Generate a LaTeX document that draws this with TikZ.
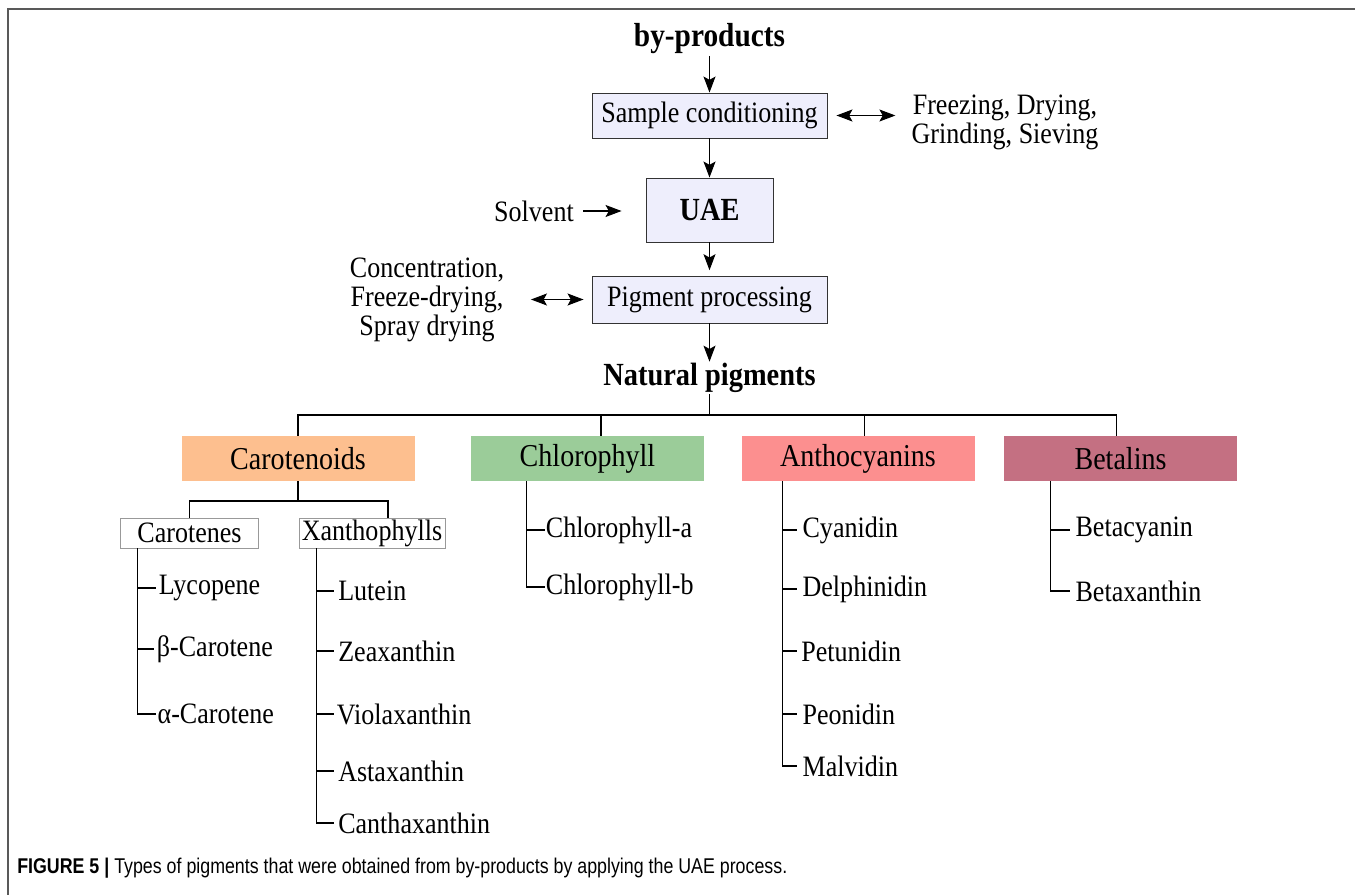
\documentclass[tikz,border=0pt]{standalone}
\usepackage{fontspec}
\usepackage{graphicx}
\setmainfont{Liberation Serif}[FakeStretch=0.88]
\newfontfamily\capfont{Liberation Sans}[FakeStretch=0.8]
\usetikzlibrary{arrows.meta}
\definecolor{lav}{HTML}{EEEEFC}
\definecolor{caroC}{HTML}{FDBF8F}
\definecolor{chlC}{HTML}{9BCC99}
\definecolor{antC}{HTML}{FC8F8F}
\definecolor{betC}{HTML}{C47082}
\newcommand\fReg{\fontsize{22.2pt}{21.5pt}\selectfont}
\newcommand\fHead{\fontsize{23.9pt}{24pt}\selectfont}
\newcommand\fBig{\fontsize{24.2pt}{24pt}\selectfont\bfseries}
\begin{document}
\begin{tikzpicture}[x=0.75pt,y=-0.75pt,
  flowbox/.style={draw=black!80,fill=lav,line width=0.7pt,inner sep=0pt,font=\fReg},
  catbox/.style={minimum width=174.75pt,minimum height=33.75pt,inner sep=0pt,font=\fHead},
  subbox/.style={draw=black!40,line width=0.6pt,fill=white,minimum height=22.5pt,inner sep=0pt,font=\fReg},
  plain/.style={inner sep=0pt,font=\fReg},
  leaf/.style={anchor=west,inner xsep=2pt,inner ysep=0pt,font=\fReg},
  arr/.style={-{Stealth[length=12pt,width=9pt,inset=2.5pt]},line width=0.8pt},
  darr/.style={{Stealth[length=12pt,width=9pt,inset=2.5pt]}-{Stealth[length=12pt,width=9pt,inset=2.5pt]},line width=0.8pt},
  tree/.style={line width=0.8pt}]
\useasboundingbox (0,0) rectangle (1355,895);
% frame
\draw[black!65,line width=1.5pt] (8,895) -- (8,9) -- (1355,9);

% flow part
\node[inner sep=1pt,font=\fontsize{25pt}{26pt}\selectfont\bfseries] (bp) at (709.5,39) {by-products};
\node[flowbox,minimum width=176.25pt,minimum height=33.75pt] (sc) at (709.5,115.5) {Sample conditioning};
\node[plain,align=center] (fr) at (1005,122.5) {Freezing, Drying,\\Grinding, Sieving};
\node[flowbox,minimum width=95.25pt,minimum height=48pt,font=\fBig] (uae) at (709.5,210) {UAE};
\node[plain] (solv) at (534,211) {Solvent};
\node[flowbox,minimum width=176.25pt,minimum height=35.25pt] (pp) at (709.5,299.5) {Pigment processing};
\node[plain,align=center] (conc) at (427,300) {Concentration,\\Freeze-drying,\\Spray drying};
\node[inner sep=1pt,font=\fBig] (np) at (709.5,378) {Natural pigments};

\draw[arr] (bp) -- (sc);
\draw[arr] (sc) -- (uae);
\draw[arr,shorten >=4pt] (uae) -- (pp);
\draw[arr] (pp) -- (np);
\draw[darr,shorten <=6.75pt,shorten >=12pt] (sc.east) -- (sc.east -| fr.west);
\draw[darr,shorten <=6pt,shorten >=20pt] (pp.west) -- (pp.west -| conc.east);
\draw[arr,shorten <=6.75pt,shorten >=18pt] (solv.east) -- (solv.east -| uae.west);

% categories
\node[catbox,fill=caroC] (car) at (298,458.5) {Carotenoids};
\node[catbox,fill=chlC] (chl) at (587.5,458.5) {Chlorophyll};
\node[catbox,fill=antC] (ant) at (858,458.5) {Anthocyanins};
\node[catbox,fill=betC] (bet) at (1120.5,458.5) {Betalins};

\coordinate (bus) at (0,415);
\coordinate (dch) at ([xshift=10.1pt]chl.north);
\coordinate (dan) at ([xshift=4.9pt]ant.north);
\coordinate (dbe) at ([xshift=-3pt]bet.north);
\draw[tree] (car.north) |- (dbe |- bus) -- (dbe);
\draw[tree] (dch) -- (dch |- bus);
\draw[tree] (dan) -- (dan |- bus);
\draw[tree] (np.south) -- (np.south |- bus);

% carotenoid sub-classes
\node[subbox,minimum width=103.5pt] (cars) at (189.5,533) {Carotenes};
\node[subbox,minimum width=109.5pt] (xan) at (372,533) {Xanthophylls};
\coordinate (sbus) at (0,501);
\coordinate (dxa) at ([xshift=12pt]xan.north);
\draw[tree] (cars.north) |- (dxa |- sbus) -- (dxa);
\draw[tree] (car.south) -- (car.south |- sbus);

% carotenes leaves
\node[leaf] (lyc) at (156,588) {Lycopene};
\node[leaf] (bcar) at (154,649) {β-Carotene};
\node[leaf,inner xsep=1pt] (acar) at (156,714) {α-Carotene};
\coordinate (cv) at ([xshift=13.1pt]cars.south west);
\draw[tree] (cv) |- (acar.west);
\draw[tree] (lyc.west -| cv) -- (lyc.west);
\draw[tree] (bcar.west -| cv) -- (bcar.west);

% xanthophyll leaves
\node[leaf,inner xsep=3pt] (lut) at (334,591) {Lutein};
\node[leaf,inner xsep=3pt] (zea) at (334,651) {Zeaxanthin};
\node[leaf,inner xsep=2pt] (vio) at (334,714) {Violaxanthin};
\node[leaf,inner xsep=3pt] (ast) at (334,771) {Astaxanthin};
\node[leaf,inner xsep=3pt] (can) at (334,823) {Canthaxanthin};
\coordinate (xv) at ([xshift=13.1pt]xan.south west);
\draw[tree] (xv) |- (can.west);
\foreach \n in {lut,zea,vio,ast} \draw[tree] (\n.west -| xv) -- (\n.west);

% chlorophyll leaves
\node[leaf,inner xsep=0.5pt] (cha) at (545,530) {Chlorophyll-a};
\node[leaf,inner xsep=0.5pt] (chb) at (545,587) {Chlorophyll-b};
\coordinate (chv) at ([xshift=42pt]chl.south west);
\draw[tree] (chv) |- (chb.west);
\draw[tree] (cha.west -| chv) -- (cha.west);

% anthocyanin leaves
\node[leaf,inner xsep=4pt] (cya) at (797,530) {Cyanidin};
\node[leaf,inner xsep=4pt] (del) at (797,589) {Delphinidin};
\node[leaf,inner xsep=3pt] (pet) at (797,651) {Petunidin};
\node[leaf,inner xsep=4pt] (peo) at (797,714) {Peonidin};
\node[leaf,inner xsep=4pt] (mal) at (797,766) {Malvidin};
\coordinate (av) at ([xshift=30.75pt]ant.south west);
\draw[tree] (av) |- (mal.west);
\foreach \n in {cya,del,pet,peo} \draw[tree] (\n.west -| av) -- (\n.west);

% betalain leaves
\node[leaf,inner xsep=4pt] (bcy) at (1070,530) {Betacyanin};
\node[leaf,inner xsep=4pt] (bxa) at (1070,591) {Betaxanthin};
\coordinate (bv) at ([xshift=35.25pt]bet.south west);
\draw[tree] (bv) |- (bxa.west);
\draw[tree] (bcy.west -| bv) -- (bcy.west);

% caption
\node[anchor=west,inner sep=0pt] (cap) at (17,868) {\resizebox{577.5pt}{\height}{\capfont\fontsize{16pt}{18pt}\selectfont\textbf{FIGURE 5 |} Types of pigments that were obtained from by-products by applying the UAE process.}};
\end{tikzpicture}
\end{document}
